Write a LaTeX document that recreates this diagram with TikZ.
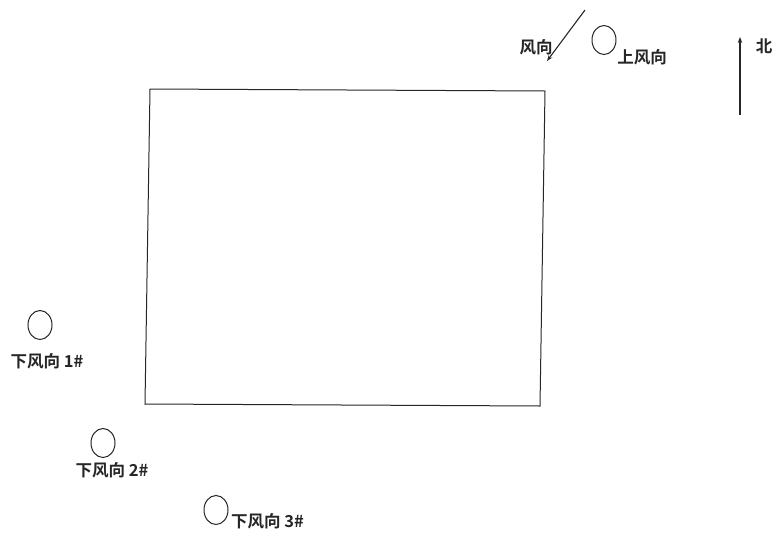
\documentclass[tikz,border=0pt]{standalone}
\usepackage{fontspec}
\newfontfamily\cjk{Noto Sans CJK SC}[BoldFont=Noto Sans CJK SC Bold]
\usetikzlibrary{shapes.geometric,arrows.meta}
\begin{document}
\begin{tikzpicture}[x=1pt,y=-1pt,
  site/.style={draw=black!85,ellipse,line width=1pt,minimum width=24pt,minimum height=29pt,inner sep=0pt},
  lbl/.style={font=\cjk\bfseries\fontsize{16.5}{16.5}\selectfont,text=black!85,inner sep=0pt},
  arr/.style={draw=black!85,line width=1.1pt,-{Stealth[length=6pt,width=4.5pt]}}]
\useasboundingbox (0,0) rectangle (774,536);
% plant boundary
\draw[black!85,line width=1pt] (150,89) coordinate (p1) -- (545,91) coordinate (p2) -- (540,406) coordinate (p3) -- (145,404) coordinate (p4) -- cycle;
% wind direction
\coordinate (w1) at (585,10);
\coordinate (w2) at (547,61);
\draw[arr] (w1) -- (w2);
\node[lbl] (wl) at (536,47) {风向};
% upwind
\node[site] (up) at (604,40) {};
\node[lbl] (upl) at (642,57) {上风向};
% north
\coordinate (n1) at (740,115);
\coordinate (n2) at (740,37);
\draw[arr] (n1) -- (n2);
\node[lbl] (nl) at (764,46) {北};
% downwind points
\node[site] (d1) at (40,325) {};
\node[lbl] (d1l) at (47,361) {下风向 1\#};
\node[site] (d2) at (103,443) {};
\node[lbl] (d2l) at (112,470) {下风向 2\#};
\node[site] (d3) at (216,510) {};
\node[lbl,anchor=west] (d3l) at (231,521) {下风向 3\#};
\end{tikzpicture}
\end{document}
